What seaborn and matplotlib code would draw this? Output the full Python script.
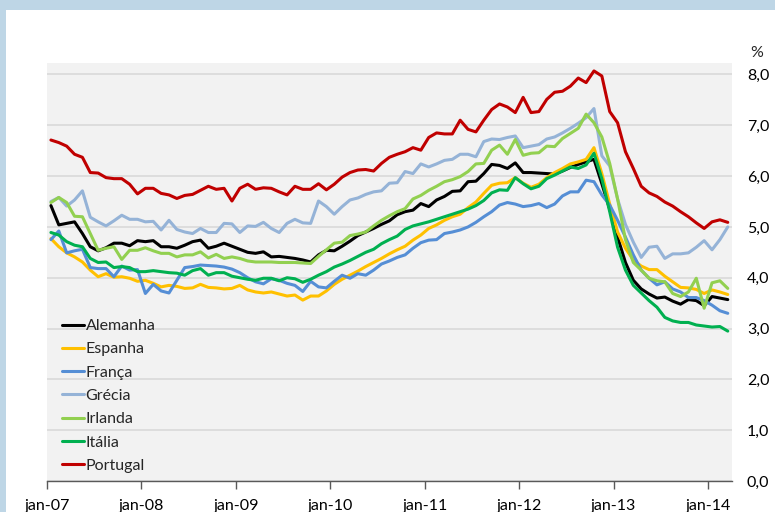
import pandas as pd
import numpy as np
import matplotlib
matplotlib.use("Agg")
import matplotlib.pyplot as plt
from matplotlib.patches import Rectangle
from matplotlib.ticker import FuncFormatter
import seaborn as sns

# Monthly series, jan-07 .. mar-14 (87 months)
alemanha = [5.42, 5.04, 5.07, 5.10, 4.87, 4.61, 4.53, 4.59, 4.68, 4.68, 4.63, 4.73, 4.71, 4.73, 4.61,
            4.61, 4.58, 4.64, 4.71, 4.74, 4.58, 4.62, 4.68, 4.62, 4.56, 4.50, 4.48, 4.51, 4.41, 4.42,
            4.40, 4.38, 4.35, 4.31, 4.45, 4.54, 4.53, 4.62, 4.72, 4.83, 4.90, 4.97, 5.05, 5.12, 5.24,
            5.30, 5.33, 5.46, 5.40, 5.53, 5.60, 5.70, 5.71, 5.89, 5.90, 6.05, 6.23, 6.21, 6.15,
            6.26, 6.07, 6.07, 6.06, 6.05, 6.04, 6.10, 6.17, 6.23, 6.28, 6.33, 5.85, 5.35, 4.80,
            4.30, 3.95, 3.78, 3.68, 3.60, 3.62, 3.54, 3.48, 3.57, 3.55, 3.45, 3.63, 3.60, 3.57]
espanha = [4.77, 4.61, 4.49, 4.41, 4.31, 4.15, 4.02, 4.08, 4.01, 4.02, 3.99, 3.93, 3.95, 3.89, 3.82,
           3.85, 3.83, 3.79, 3.80, 3.87, 3.81, 3.80, 3.78, 3.79, 3.85, 3.76, 3.72, 3.70, 3.72, 3.68,
           3.64, 3.66, 3.56, 3.64, 3.64, 3.74, 3.87, 3.97, 4.05, 4.13, 4.22, 4.30, 4.38, 4.47, 4.55,
           4.62, 4.74, 4.84, 4.97, 5.04, 5.13, 5.20, 5.25, 5.38, 5.49, 5.66, 5.82, 5.86, 5.87,
           5.97, 5.86, 5.78, 5.84, 5.97, 6.07, 6.15, 6.24, 6.28, 6.33, 6.56, 6.05, 5.45, 4.90,
           4.58, 4.35, 4.23, 4.16, 4.16, 4.03, 3.92, 3.81, 3.80, 3.77, 3.69, 3.76, 3.72, 3.67]
franca = [4.75, 4.92, 4.49, 4.53, 4.56, 4.20, 4.18, 4.18, 4.02, 4.23, 4.15, 4.16, 3.69, 3.87, 3.74,
          3.70, 3.95, 4.20, 4.22, 4.25, 4.24, 4.23, 4.21, 4.17, 4.10, 4.00, 3.92, 3.88, 3.98, 3.95,
          3.89, 3.85, 3.73, 3.93, 3.82, 3.80, 3.93, 4.05, 3.99, 4.08, 4.05, 4.15, 4.27, 4.33, 4.40,
          4.45, 4.58, 4.69, 4.74, 4.75, 4.87, 4.90, 4.94, 5.00, 5.09, 5.20, 5.30, 5.43, 5.48,
          5.45, 5.40, 5.42, 5.46, 5.38, 5.45, 5.61, 5.69, 5.69, 5.92, 5.89, 5.63, 5.43, 5.13,
          4.80, 4.45, 4.15, 3.99, 3.86, 3.92, 3.78, 3.72, 3.61, 3.61, 3.55, 3.46, 3.35, 3.30]
grecia = [5.50, 5.58, 5.41, 5.53, 5.71, 5.19, 5.10, 5.02, 5.12, 5.23, 5.15, 5.15, 5.10, 5.11, 4.94,
          5.13, 4.95, 4.90, 4.87, 4.97, 4.89, 4.89, 5.07, 5.06, 4.89, 5.02, 5.01, 5.09, 4.97, 4.89,
          5.07, 5.15, 5.08, 5.07, 5.51, 5.40, 5.25, 5.40, 5.53, 5.57, 5.64, 5.69, 5.71, 5.86, 5.87,
          6.09, 6.05, 6.24, 6.18, 6.24, 6.31, 6.33, 6.43, 6.43, 6.38, 6.68, 6.73, 6.72, 6.76,
          6.79, 6.56, 6.59, 6.62, 6.73, 6.77, 6.85, 6.94, 7.04, 7.15, 7.33, 6.40, 6.20, 5.55,
          5.05, 4.70, 4.40, 4.60, 4.62, 4.38, 4.47, 4.47, 4.49, 4.60, 4.73, 4.55, 4.75, 5.00]
irlanda = [5.48, 5.58, 5.48, 5.21, 5.20, 4.87, 4.54, 4.58, 4.61, 4.36, 4.54, 4.54, 4.59, 4.53, 4.48,
           4.48, 4.41, 4.45, 4.45, 4.51, 4.39, 4.46, 4.38, 4.41, 4.38, 4.33, 4.31, 4.31, 4.31, 4.30,
           4.30, 4.30, 4.29, 4.28, 4.42, 4.55, 4.68, 4.70, 4.83, 4.86, 4.90, 5.02, 5.13, 5.22, 5.30,
           5.36, 5.55, 5.62, 5.72, 5.80, 5.89, 5.93, 5.99, 6.09, 6.24, 6.25, 6.51, 6.61, 6.43,
           6.72, 6.41, 6.45, 6.46, 6.59, 6.58, 6.74, 6.84, 6.94, 7.22, 7.05, 6.77, 6.25, 5.55,
           4.75, 4.30, 4.15, 3.99, 3.94, 3.92, 3.69, 3.63, 3.72, 3.99, 3.40, 3.90, 3.94, 3.79]
italia = [4.89, 4.84, 4.71, 4.64, 4.61, 4.38, 4.30, 4.31, 4.20, 4.22, 4.20, 4.12, 4.12, 4.14, 4.12,
          4.10, 4.09, 4.05, 4.14, 4.18, 4.05, 4.10, 4.10, 4.03, 4.00, 3.97, 3.95, 3.99, 3.99, 3.94,
          4.00, 3.98, 3.91, 3.97, 4.05, 4.12, 4.21, 4.27, 4.34, 4.42, 4.50, 4.56, 4.67, 4.75, 4.82,
          4.95, 5.02, 5.06, 5.10, 5.15, 5.20, 5.25, 5.30, 5.35, 5.42, 5.52, 5.67, 5.73, 5.72,
          5.97, 5.85, 5.75, 5.80, 5.95, 6.02, 6.10, 6.18, 6.15, 6.22, 6.45, 5.95, 5.30, 4.60,
          4.15, 3.85, 3.70, 3.55, 3.42, 3.22, 3.15, 3.12, 3.12, 3.07, 3.05, 3.03, 3.04, 2.95]
portugal = [6.71, 6.66, 6.59, 6.43, 6.37, 6.07, 6.06, 5.97, 5.95, 5.95, 5.84, 5.65, 5.76, 5.76, 5.66,
            5.63, 5.56, 5.62, 5.64, 5.72, 5.80, 5.74, 5.76, 5.51, 5.76, 5.84, 5.74, 5.77, 5.76, 5.69,
            5.63, 5.80, 5.74, 5.74, 5.85, 5.73, 5.84, 5.98, 6.07, 6.12, 6.13, 6.10, 6.25, 6.37, 6.43,
            6.48, 6.56, 6.51, 6.76, 6.85, 6.83, 6.83, 7.10, 6.92, 6.87, 7.10, 7.31, 7.42, 7.36,
            7.25, 7.55, 7.25, 7.27, 7.51, 7.65, 7.67, 7.77, 7.93, 7.84, 8.07, 7.97, 7.27, 7.05,
            6.48, 6.15, 5.80, 5.67, 5.60, 5.49, 5.41, 5.30, 5.20, 5.08, 4.97, 5.10, 5.14, 5.09]

countries = ["Alemanha", "Espanha", "França", "Grécia", "Irlanda", "Itália", "Portugal"]
colors = ["#000000", "#ffc000", "#558ed5", "#95b3d7", "#92d050", "#00b050", "#c00000"]
tick_labels = ["jan-07", "jan-08", "jan-09", "jan-10", "jan-11", "jan-12", "jan-13", "jan-14"]

series = [alemanha, espanha, franca, grecia, irlanda, italia, portugal]
frames = []
for name, vals in zip(countries, series):
    frames.append(pd.DataFrame({"pos": np.arange(len(vals)) + 0.5, "valor": vals, "pais": name}))
df = pd.concat(frames, ignore_index=True)

sns.set_theme(style="white")
plt.rcParams["font.family"] = ["Lato", "DejaVu Sans"]

fig = plt.figure(figsize=(7.75, 5.12), dpi=100)
fig.patch.set_facecolor("white")
# light blue frame (top and left)
fig.patches.append(Rectangle((0, 1 - 10 / 512), 1, 10 / 512, transform=fig.transFigure,
                             facecolor="#bed6e6", edgecolor="none", zorder=0))
fig.patches.append(Rectangle((0, 0), 6 / 775, 1, transform=fig.transFigure,
                             facecolor="#bed6e6", edgecolor="none", zorder=0))

ax = fig.add_axes([47 / 775, 31 / 512, 684.7 / 775, (481 - 63.3) / 512])
ax.set_facecolor("#f2f2f2")

sns.lineplot(data=df, x="pos", y="valor", hue="pais", hue_order=countries,
             palette=colors, linewidth=2.2, ax=ax)

ax.set_xlim(0, 87)
ax.set_ylim(0, 8.22)
ax.set_xticks(np.arange(0, 85, 12))
ax.set_xticklabels(tick_labels)
ax.set_yticks(np.arange(0, 9, 1))
ax.yaxis.set_major_formatter(FuncFormatter(lambda v, p: f"{v:.1f}".replace(".", ",")))
ax.yaxis.tick_right()
ax.set_xlabel("")
ax.set_ylabel("")

ax.set_axisbelow(True)
ax.yaxis.grid(True, color="#d9d9d9", linewidth=1.2)
ax.xaxis.grid(False)
for s in ["top", "left", "right"]:
    ax.spines[s].set_visible(False)
ax.spines["bottom"].set_color("#595959")
ax.spines["bottom"].set_linewidth(1.0)

ax.tick_params(axis="x", bottom=True, direction="out", length=6, width=1.0,
               color="#595959", labelsize=11.5, labelcolor="#000000", pad=7)
ax.tick_params(axis="y", right=False, left=False, length=0, labelsize=11.5,
               labelcolor="#000000", pad=11)

fig.text(757 / 775, 1 - 53 / 512, "%", ha="center", va="center", fontsize=11.5)

handles, labels = ax.get_legend_handles_labels()
ax.legend(handles, labels, loc="upper left", bbox_to_anchor=(0.0215, 0.388),
          frameon=False, fontsize=11.5, handlelength=1.4, handletextpad=0.1,
          labelspacing=0.57, borderpad=0, borderaxespad=0)

fig.savefig("out.png", dpi=100)
